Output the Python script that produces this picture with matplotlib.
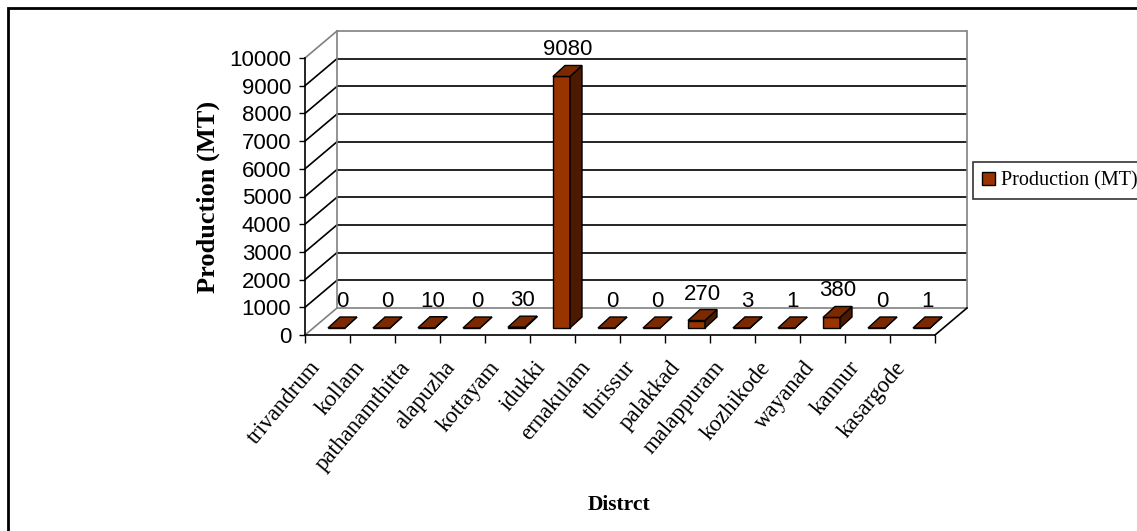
import matplotlib
matplotlib.use("Agg")
import matplotlib.pyplot as plt
from matplotlib.patches import Polygon, Rectangle, Patch

# ---- data -------------------------------------------------------------
districts = ["trivandrum", "kollam", "pathanamthitta", "alapuzha", "kottayam",
             "idukki", "ernakulam", "thrissur", "palakkad", "malappuram",
             "kozhikode", "wayanad", "kannur", "kasargode"]
production = [0, 0, 10, 0, 30, 9080, 0, 0, 270, 3, 1, 380, 0, 1]
y_ticks = list(range(0, 10001, 1000))
series_name = "Production (MT)"
x_title = "Distrct"
y_title = "Production (MT)"

SANS = ["Liberation Sans", "DejaVu Sans"]
SERIF = ["Liberation Serif", "DejaVu Serif"]

# ---- figure / front plane of the 3-D box ------------------------------
W, H, DPI = 1137, 531, 100
fig = plt.figure(figsize=(W / DPI, H / DPI), dpi=DPI)
fig.patch.set_facecolor("white")

left_px, right_px, base_px, top_px = 305, 935, 335, 58
ax = fig.add_axes([left_px / W, 1 - base_px / H,
                   (right_px - left_px) / W, (base_px - top_px) / H])
n = len(districts)
ymax = y_ticks[-1]
ax.set_xlim(0, n)
ax.set_ylim(0, ymax)
ax.set_facecolor("none")

# data units per pixel, used for the oblique depth of walls and bars
ux = n / (right_px - left_px)
uy = ymax / (base_px - top_px)
DX, DY = 32 * ux, 27 * uy          # wall depth
BX, BY = 9 * ux, 7 * uy            # bar front-face offset into the box
BDX, BDY = 12 * ux, 11 * uy        # bar depth
BW = 17 * ux                       # bar width

GRAY = "#808080"
LW = 1.2

# back wall grid lines and left side-wall diagonals
for v in y_ticks:
    edge = v in (0, ymax)
    col = GRAY if edge else "black"
    ax.plot([DX, n + DX], [v + DY, v + DY], color=col, lw=LW,
            clip_on=False, zorder=1, solid_capstyle="butt")
    if v > 0:
        ax.plot([0, DX], [v, v + DY], color=col, lw=LW, clip_on=False, zorder=1)
ax.plot([0, DX], [0, DY], color=GRAY, lw=LW, clip_on=False, zorder=1)
# wall verticals
ax.plot([DX, DX], [DY, ymax + DY], color=GRAY, lw=LW, clip_on=False, zorder=1)
ax.plot([n + DX, n + DX], [DY, ymax + DY], color=GRAY, lw=LW, clip_on=False, zorder=1)
# right floor edge
ax.plot([n, n + DX], [0, DY], color="black", lw=LW, clip_on=False, zorder=1)

# ---- bars --------------------------------------------------------------
FACE = "#993300"
TOP = "#7a2900"
SIDE = "#4c1a00"
for i, v in enumerate(production):
    x0 = i + 0.5 - BW / 2 + BX
    x1 = x0 + BW
    y0 = BY
    y1 = BY + v
    ax.add_patch(Rectangle((x0, y0), BW, v, facecolor=FACE, edgecolor="black",
                           lw=1, clip_on=False, zorder=3))
    ax.add_patch(Polygon([(x1, y0), (x1 + BDX, y0 + BDY), (x1 + BDX, y1 + BDY), (x1, y1)],
                         closed=True, facecolor=SIDE, edgecolor="black",
                         lw=1, clip_on=False, zorder=3))
    ax.add_patch(Polygon([(x0, y1), (x1, y1), (x1 + BDX, y1 + BDY), (x0 + BDX, y1 + BDY)],
                         closed=True, facecolor=TOP, edgecolor="black",
                         lw=1, clip_on=False, zorder=4))
    ax.annotate(f"{v}", xy=(i + 0.5 + BX + BDX / 2, y1 + BDY),
                xytext=(0, 10), textcoords="offset pixels",
                ha="center", va="baseline", fontsize=16,
                family=SANS, zorder=5, annotation_clip=False)

# ---- axes --------------------------------------------------------------
for s in ("top", "right"):
    ax.spines[s].set_visible(False)
for s in ("left", "bottom"):
    ax.spines[s].set_color("black")
    ax.spines[s].set_linewidth(LW)
    ax.spines[s].set_zorder(2)

ax.set_yticks(y_ticks)
ax.set_yticklabels([str(t) for t in y_ticks], family=SANS, fontsize=16)
ax.tick_params(axis="y", direction="out", length=4, width=1, pad=6)

ax.set_xticks(range(n + 1))
ax.set_xticklabels([])
ax.tick_params(axis="x", direction="out", length=6, width=1)

for i, name in enumerate(districts):
    ax.annotate(name, xy=(i + 0.5, 0), xytext=(-11, -29), textcoords="offset pixels",
                rotation=50, rotation_mode="anchor", ha="right", va="center",
                family=SERIF, fontsize=16.5, annotation_clip=False)

fig.text(208 / W, 1 - 197 / H, y_title, rotation=90, ha="center", va="center",
         family=SERIF, fontweight="bold", fontsize=19)
fig.text(619 / W, 1 - 505 / H, x_title, ha="center", va="center",
         family=SERIF, fontweight="bold", fontsize=15.5)

# ---- legend ------------------------------------------------------------
leg = fig.legend(handles=[Patch(facecolor=FACE, edgecolor="black", lw=1, label=series_name)],
                 loc="upper left", bbox_to_anchor=(973 / W, 1 - 162 / H),
                 borderaxespad=0, frameon=True, fancybox=False, shadow=False,
                 handlelength=0.62, handleheight=0.62, handletextpad=0.3,
                 borderpad=0.45, prop={"family": SERIF, "size": 14.5})
leg.get_frame().set_edgecolor("black")
leg.get_frame().set_linewidth(1.2)

# ---- outer chart border -------------------------------------------------
fig.patches.append(Rectangle((8 / W, -0.1), 1.2, 1.1 - 8 / H, transform=fig.transFigure,
                             fill=False, edgecolor="black", lw=2))

fig.savefig("out.png", dpi=DPI, facecolor="white")
